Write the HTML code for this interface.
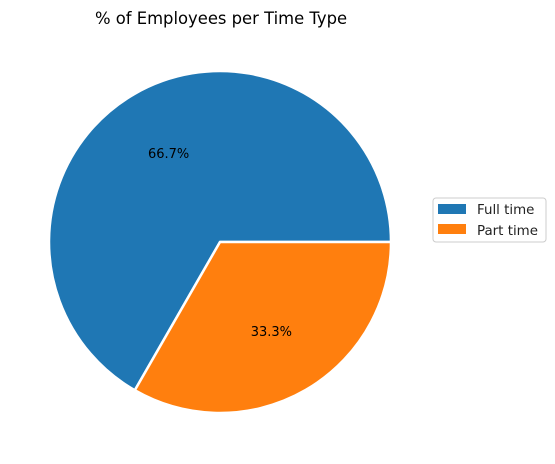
<!DOCTYPE html>
<html><head><meta charset="utf-8"><style>
body{margin:0;background:#fff;}
svg{display:block;font-family:"DejaVu Sans","Liberation Sans",sans-serif;}
</style></head><body>
<svg id="chart" width="555" height="464" viewBox="0 0 555 464">
<text x="221" y="24" text-anchor="middle" font-size="16.4" fill="#000">% of Employees per Time Type</text>
<g id="slices"></g>
<g>
<rect x="433" y="198" width="113" height="44" rx="3" fill="#fff" stroke="#ccc" stroke-width="1"/>
<rect x="438" y="204" width="28" height="10" fill="#1f77b4"/>
<text x="477" y="214" font-size="13.4" fill="#222">Full time</text>
<rect x="438" y="224" width="28" height="10" fill="#ff7f0e"/>
<text x="477" y="235" font-size="13.4" fill="#222">Part time</text>
</g>
</svg>
<script>
const categories = ["Full time", "Part time"];
const values = [66.7, 33.3];
const colors = ["#1f77b4", "#ff7f0e"];
const cx = 220, cy = 242, r = 171;
const g = document.getElementById('slices');
const ns = 'http://www.w3.org/2000/svg';
const total = values.reduce((a,b)=>a+b,0);
let start = 0;
values.forEach((v,i)=>{
  const sweep = v/total*2*Math.PI;
  const a0 = start, a1 = start + sweep;
  const x0 = cx + r*Math.cos(a0), y0 = cy - r*Math.sin(a0);
  const x1 = cx + r*Math.cos(a1), y1 = cy - r*Math.sin(a1);
  const large = sweep > Math.PI ? 1 : 0;
  const p = document.createElementNS(ns,'path');
  p.setAttribute('d', `M${cx},${cy} L${x0},${y0} A${r},${r} 0 ${large} 0 ${x1},${y1} Z`);
  p.setAttribute('fill', colors[i]);
  p.setAttribute('stroke', '#fff');
  p.setAttribute('stroke-width', '2.5');
  p.setAttribute('stroke-linejoin', 'round');
  
  
  g.appendChild(p);
  const mid = (a0+a1)/2;
  const t = document.createElementNS(ns,'text');
  t.setAttribute('x', cx + 0.6*r*Math.cos(mid));
  t.setAttribute('y', cy - 0.6*r*Math.sin(mid) + 5);
  t.setAttribute('text-anchor','middle');
  t.setAttribute('font-size','13');
  t.textContent = v.toFixed(1) + '%';
  
  
  g.appendChild(t);
  start = a1;
});
</script>
</body></html>
